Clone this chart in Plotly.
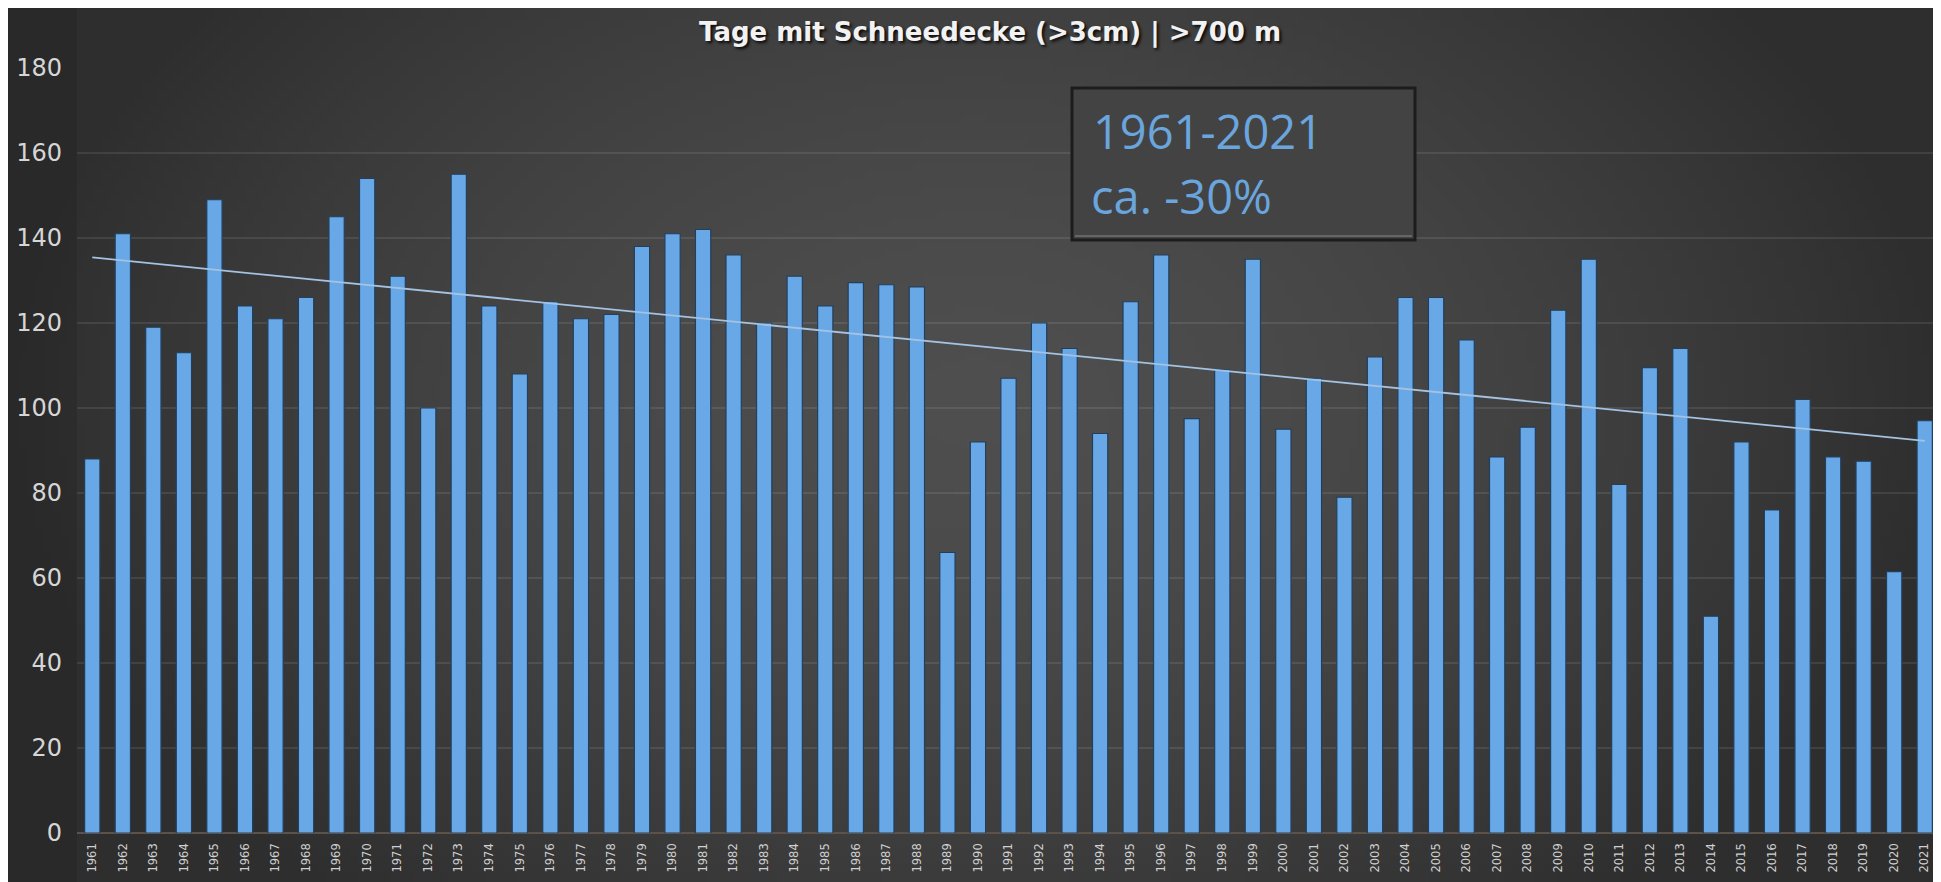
import zlib
import struct
import base64
import numpy as np
import plotly.graph_objects as go

# ---------------- data ----------------
years = [str(y) for y in range(1961, 2022)]
snow_days = [
    88, 141, 119, 113, 149, 124, 121, 126, 145, 154,
    131, 100, 155, 124, 108, 125, 121, 122, 138, 141,
    142, 136, 120, 131, 124, 129.5, 129, 128.5, 66, 92,
    107, 120, 114, 94, 125, 136, 97.5, 109, 135, 95,
    107, 79, 112, 126, 126, 116, 88.5, 95.5, 123, 135,
    82, 109.5, 114, 51, 92, 76, 102, 88.5, 87.5, 61.5,
    97,
]
y_ticks = [0, 20, 40, 60, 80, 100, 120, 140, 160, 180]
title_text = "Tage mit Schneedecke (>3cm) | >700 m"
box_line1 = "1961-2021"
box_line2 = "ca. -30%"

# ---------------- layout geometry ----------------
# page has an 8px body margin; figure sized to fit the window
OFF = 8
W, H = 1941 - OFF, 882 - OFF
L, R, T, B = 77 - OFF, 1, 68 - OFF, 49
PW = W - L - R
PH = H - T - B


def fx(px):
    """page x pixel -> paper coordinate"""
    return (px - OFF - L) / PW


def fy(py):
    """page y pixel -> paper coordinate"""
    return 1 - (py - OFF - T) / PH


# ---------------- background gradient (generated png) ----------------
def make_bg(w=240, h=110):
    rows = []
    for j in range(h):
        yy = (j + 0.5) / h
        row = bytearray([0])
        for i in range(w):
            xx = (i + 0.5) / w
            d = (((xx - 0.5) / 0.5) ** 2 + ((yy - 0.45) / 0.75) ** 2) ** 0.5
            d = min(1.0, d)
            v = int(round(78 - 32 * d ** 1.6))
            if xx < 69 / w * (w / 1933.0) * 1:  # placeholder, no-op
                pass
            row += bytes([v, v, v])
        rows.append(bytes(row))
    raw = b"".join(rows)

    def chunk(t, data):
        c = struct.pack(">I", len(data)) + t + data
        return c + struct.pack(">I", zlib.crc32(t + data) & 0xFFFFFFFF)

    png = (b"\x89PNG\r\n\x1a\n"
           + chunk(b"IHDR", struct.pack(">IIBBBBB", w, h, 8, 2, 0, 0, 0))
           + chunk(b"IDAT", zlib.compress(raw, 9))
           + chunk(b"IEND", b""))
    return "data:image/png;base64," + base64.b64encode(png).decode()


# ---------------- trend (least squares, like Excel trendline) ----------------
idx = np.arange(len(snow_days))
slope, intercept = np.polyfit(idx, np.array(snow_days, dtype=float), 1)
trend_y = [intercept + slope * idx[0], intercept + slope * idx[-1]]
trend_x = [years[0], years[-1]]

fig = go.Figure()
fig.add_trace(go.Bar(
    x=years, y=snow_days,
    marker=dict(color="#68a8e6", line=dict(color="#22405e", width=1.2)),
    showlegend=False,
))
fig.add_trace(go.Scatter(
    x=trend_x, y=trend_y, mode="lines",
    line=dict(color="#a4c2e2", width=1.8),
    showlegend=False,
))

shapes = [
    # darker strip behind the y tick labels (chart area outside plot area)
    dict(type="rect", xref="paper", yref="paper", x0=fx(8), x1=fx(77), y0=fy(882), y1=fy(8),
         fillcolor="rgba(0,0,0,0.10)", line=dict(width=0), layer="below"),
    # text box
    dict(type="rect", xref="paper", yref="paper", x0=fx(1072), x1=fx(1415), y0=fy(240), y1=fy(88),
         fillcolor="#434343", line=dict(color="#1c1c1c", width=3), layer="above"),
    dict(type="line", xref="paper", yref="paper", x0=fx(1075), x1=fx(1412), y0=fy(236), y1=fy(236),
         line=dict(color="#666666", width=2), layer="above"),
]

annotations = [
    dict(text="<b>" + title_text + "</b>", xref="paper", yref="paper",
         x=fx(990), y=fy(33), xanchor="center", yanchor="middle", showarrow=False,
         font=dict(family="DejaVu Sans", size=26, color="#f2f2f2",
                   shadow="2px 2px 3px rgba(0,0,0,0.85)")),
    dict(text=box_line1, xref="paper", yref="paper",
         x=fx(1091), y=fy(131), xanchor="left", yanchor="middle", showarrow=False,
         font=dict(family="Open Sans", size=47, color="#6aa5dd")),
    dict(text=box_line2, xref="paper", yref="paper",
         x=fx(1089), y=fy(196), xanchor="left", yanchor="middle", showarrow=False,
         font=dict(family="Open Sans", size=47, color="#6aa5dd")),
]

fig.update_layout(
    width=W, height=H,
    margin=dict(l=L, r=R, t=T, b=B, pad=0),
    paper_bgcolor="#3a3a3a",
    plot_bgcolor="rgba(0,0,0,0)",
    bargap=0.5,
    shapes=shapes,
    annotations=annotations,
    images=[dict(source=make_bg(), xref="paper", yref="paper",
                 x=-L / PW, y=1 + T / PH, sizex=W / PW, sizey=H / PH,
                 xanchor="left", yanchor="top", sizing="stretch", layer="below")],
    xaxis=dict(type="category", tickangle=-90, showgrid=False, ticks="",
               tickfont=dict(family="DejaVu Sans", size=11.5, color="#d0d0d0"),
               ticklabelstandoff=7, showline=False, zeroline=False),
    yaxis=dict(range=[0, 180], tickvals=y_ticks, ticks="",
               tickfont=dict(family="DejaVu Sans", size=24, color="#d6d6d6"),
               ticklabelstandoff=14, showline=False,
               gridcolor="rgba(255,255,255,0.09)", gridwidth=2,
               zeroline=True, zerolinecolor="#5c5249", zerolinewidth=2),
)

fig.write_html("out.html")
